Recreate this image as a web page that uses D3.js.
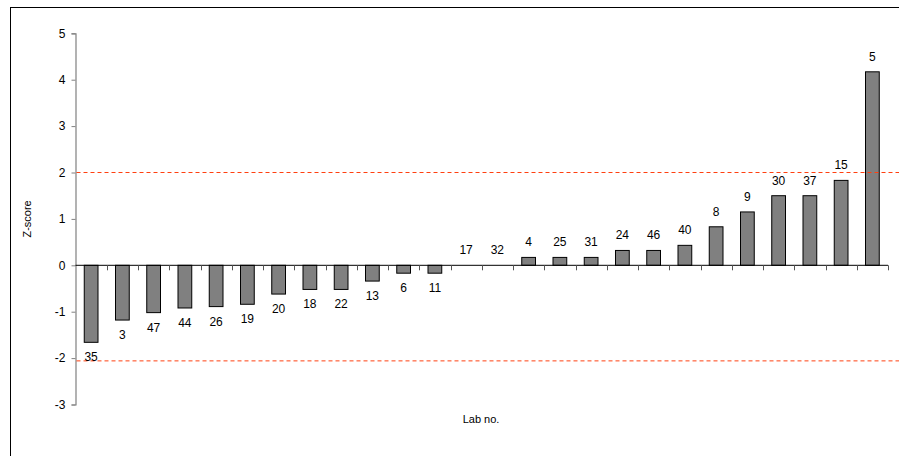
<!DOCTYPE html>
<html>
<head>
<meta charset="utf-8">
<script src="https://cdn.jsdelivr.net/npm/d3@7"></script>
<style>
  body { margin: 0; background: #fff; }
  svg { display: block; font-family: "Liberation Sans", Arial, sans-serif; }
</style>
</head>
<body>
<div id="chart"></div>
<script>
// lab numbers, in drawn order
const labs = ["35", "3", "47", "44", "26", "19", "20", "18", "22", "13", "6", "11", "17",
  "32", "4", "25", "31", "24", "46", "40", "8", "9", "30", "37", "15", "5"];
const zScores = [-1.66, -1.18, -1.02, -0.92, -0.89, -0.84, -0.62, -0.52, -0.52, -0.34, -0.17, -0.17, 0,
  0, 0.17, 0.17, 0.17, 0.32, 0.32, 0.43, 0.83, 1.15, 1.5, 1.5, 1.83, 4.17];
const yTicks = [5, 4, 3, 2, 1, 0, -1, -2, -3];
const limits = [2, -2.06];

const W = 899, H = 456;
const svg = d3.select("#chart").append("svg")
  .attr("width", W).attr("height", H);

// chart frame (runs off the right and bottom edges)
svg.append("rect")
  .attr("x", 10.5).attr("y", 7.5)
  .attr("width", W + 20).attr("height", H + 20)
  .attr("fill", "none").attr("stroke", "#000").attr("stroke-width", 1);

const left = 75.5, right = 888;
const y = d3.scaleLinear().domain([-3, 5]).range([404.5, 33.3]);
const x = d3.scaleBand().domain(labs).range([left, right]).paddingInner(0.56).paddingOuter(0.28);

// y axis, plain hyphen for negatives
const yAxis = svg.append("g")
  .attr("transform", `translate(${left},0)`)
  .call(d3.axisLeft(y).tickValues(yTicks).tickSize(4).tickPadding(6).tickFormat(d => String(d)));
yAxis.select(".domain").attr("stroke", "#808080").attr("stroke-width", 1.2);
yAxis.selectAll(".tick line").attr("stroke", "#808080");
yAxis.selectAll(".tick text").attr("fill", "#000").style("font-size", "12px");

// bars
svg.append("g").selectAll("rect")
  .data(zScores)
  .join("rect")
  .attr("x", (d, i) => x(labs[i]))
  .attr("width", x.bandwidth())
  .attr("y", d => y(Math.max(0, d)))
  .attr("height", d => Math.abs(y(d) - y(0)))
  .attr("fill", "#808080")
  .attr("stroke", "#000")
  .attr("stroke-width", 1);

// zero line with category ticks
const step = x.step();
svg.append("line")
  .attr("x1", left).attr("x2", right)
  .attr("y1", y(0)).attr("y2", y(0))
  .attr("stroke", "#000").attr("stroke-width", 1);
svg.append("g").selectAll("line")
  .data(d3.range(1, labs.length + 1))
  .join("line")
  .attr("x1", i => Math.round(left + i * step) + 0.5)
  .attr("x2", i => Math.round(left + i * step) + 0.5)
  .attr("y1", y(0)).attr("y2", y(0) + 5)
  .attr("stroke", "#555").attr("stroke-width", 1);

// limit lines
svg.append("g").selectAll("line")
  .data(limits)
  .join("line")
  .attr("x1", left + 1).attr("x2", W)
  .attr("y1", d => y(d)).attr("y2", d => y(d))
  .attr("stroke", "#ff4010")
  .attr("stroke-width", 1)
  .attr("stroke-dasharray", "4,3");

// bar labels
svg.append("g").selectAll("text")
  .data(zScores)
  .join("text")
  .attr("x", (d, i) => x(labs[i]) + x.bandwidth() / 2)
  .attr("y", d => d < 0 ? y(d) + 19 : y(d) - 11)
  .attr("text-anchor", "middle")
  .style("font-size", "12px")
  .attr("fill", "#000")
  .text((d, i) => labs[i]);

// axis titles
svg.append("text")
  .attr("transform", `translate(31,${y(1)}) rotate(-90)`)
  .attr("text-anchor", "middle")
  .style("font-size", "11px")
  .text("Z-score");
svg.append("text")
  .attr("x", 481).attr("y", 423)
  .attr("text-anchor", "middle")
  .style("font-size", "11px")
  .text("Lab no.");
</script>
</body>
</html>
